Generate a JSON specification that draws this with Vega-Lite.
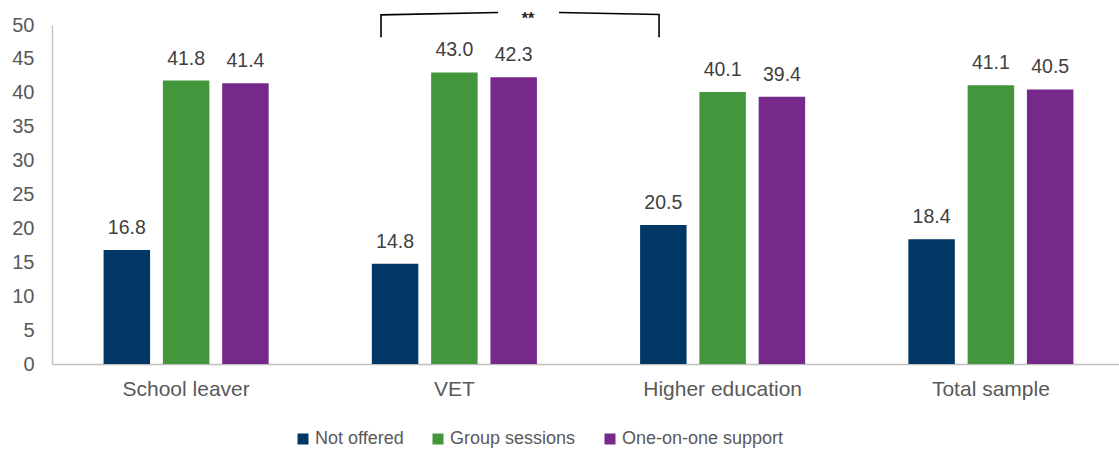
{
  "$schema": "https://vega.github.io/schema/vega-lite/v6.json",
  "width": 1067,
  "height": 339,
  "autosize": {"type": "none"},
  "padding": {"left": 52, "top": 25, "right": 0, "bottom": 88},
  "config": {
    "view": {"stroke": null},
    "font": "Liberation Sans",
    "axis": {"labelFont": "Liberation Sans", "labelColor": "#595959", "domainColor": "#bfbfbf", "domainWidth": 1.3, "ticks": false, "grid": false},
    "legend": {"labelFont": "Liberation Sans"}
  },
  "datasets": {
    "bars": [
      {"group": "School leaver", "series": "Not offered", "value": 16.8},
      {"group": "School leaver", "series": "Group sessions", "value": 41.8},
      {"group": "School leaver", "series": "One-on-one support", "value": 41.4},
      {"group": "VET", "series": "Not offered", "value": 14.8},
      {"group": "VET", "series": "Group sessions", "value": 43.0},
      {"group": "VET", "series": "One-on-one support", "value": 42.3},
      {"group": "Higher education", "series": "Not offered", "value": 20.5},
      {"group": "Higher education", "series": "Group sessions", "value": 40.1},
      {"group": "Higher education", "series": "One-on-one support", "value": 39.4},
      {"group": "Total sample", "series": "Not offered", "value": 18.4},
      {"group": "Total sample", "series": "Group sessions", "value": 41.1},
      {"group": "Total sample", "series": "One-on-one support", "value": 40.5}
    ],
    "bracket": [
      {"seg": "a", "ord": 1, "pos": 1.2265, "level": 48.2},
      {"seg": "a", "ord": 2, "pos": 1.2265, "level": 51.5},
      {"seg": "a", "ord": 3, "pos": 1.663, "level": 51.85},
      {"seg": "b", "ord": 1, "pos": 1.89, "level": 51.85},
      {"seg": "b", "ord": 2, "pos": 2.263, "level": 51.55},
      {"seg": "b", "ord": 3, "pos": 2.263, "level": 48.2}
    ],
    "stars": [
      {"pos": 1.774, "level": 51.7, "label": "**"}
    ]
  },
  "layer": [
    {
      "data": {"name": "bars"},
      "encoding": {
        "x": {
          "field": "group", "type": "nominal", "sort": null, "title": null,
          "scale": {"range": [0, 1073], "paddingInner": 0, "paddingOuter": 0},
          "axis": {"labelAngle": 0, "labelFontSize": 21, "labelPadding": 14, "labelColor": "#595959"}
        },
        "xOffset": {
          "field": "series", "type": "nominal", "sort": ["Not offered", "Group sessions", "One-on-one support"],
          "scale": {"paddingInner": 0.216, "paddingOuter": 0.87}
        },
        "y": {
          "field": "value", "type": "quantitative", "title": null,
          "scale": {"domain": [0, 50], "nice": false},
          "axis": {"values": [0, 5, 10, 15, 20, 25, 30, 35, 40, 45, 50], "labelOverlap": false, "labelSeparation": 0, "labelFontSize": 20, "labelPadding": 18, "labelColor": "#595959"}
        }
      },
      "layer": [
        {
          "mark": {"type": "bar"},
          "encoding": {
            "color": {
              "field": "series", "type": "nominal",
              "sort": ["Not offered", "Group sessions", "One-on-one support"],
              "scale": {"domain": ["Not offered", "Group sessions", "One-on-one support"], "range": ["#003764", "#43963b", "#77288b"]},
              "legend": {
                "title": null, "orient": "none", "direction": "horizontal",
                "legendX": 242, "legendY": 405, "padding": 0,
                "symbolType": "square", "symbolSize": 121, "symbolStrokeWidth": 0,
                "labelFontSize": 18, "labelColor": "#595959", "labelOffset": 3, "labelLimit": 0, "columnPadding": 25
              }
            }
          }
        },
        {
          "mark": {"type": "text", "baseline": "alphabetic", "dy": -16, "fontSize": 19.5, "color": "#404040"},
          "encoding": {"text": {"field": "value", "type": "quantitative", "format": ".1f"}}
        }
      ]
    },
    {
      "layer": [
        {
          "data": {"name": "bracket"},
          "mark": {"type": "line", "color": "#000000", "strokeWidth": 1.6, "strokeJoin": "miter"},
          "encoding": {
            "x": {"field": "pos", "type": "quantitative", "scale": {"domain": [0, 4], "range": [0, 1073], "nice": false}, "axis": null},
            "y": {"field": "level", "type": "quantitative", "title": null, "axis": null},
            "detail": {"field": "seg"},
            "order": {"field": "ord"}
          }
        },
        {
          "data": {"name": "stars"},
          "mark": {"type": "text", "baseline": "middle", "dy": 6, "fontSize": 16, "fontWeight": "bold", "color": "#262626"},
          "encoding": {
            "x": {"field": "pos", "type": "quantitative", "scale": {"domain": [0, 4], "range": [0, 1073], "nice": false}, "axis": null},
            "y": {"field": "level", "type": "quantitative", "title": null, "axis": null},
            "text": {"field": "label"}
          }
        }
      ]
    }
  ],
  "resolve": {"scale": {"x": "independent"}, "axis": {"y": "independent"}}
}
